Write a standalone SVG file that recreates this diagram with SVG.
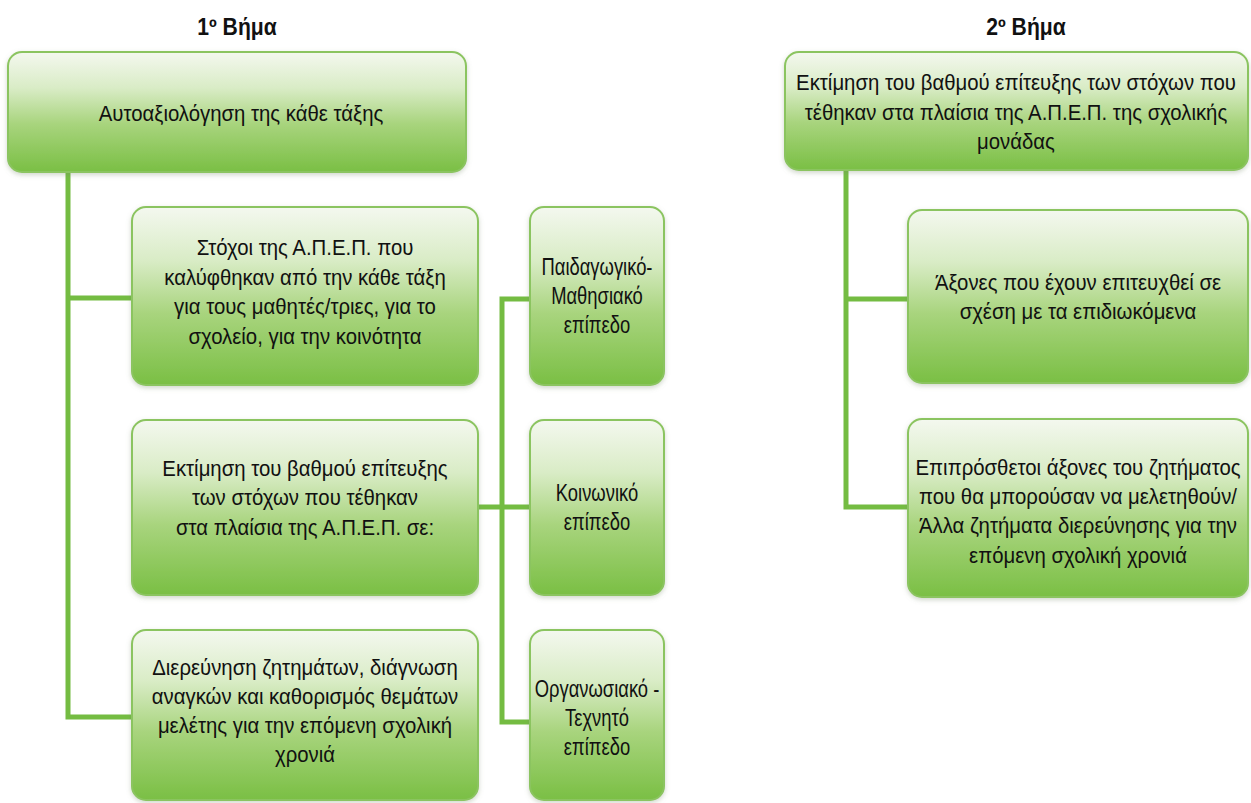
<svg xmlns="http://www.w3.org/2000/svg" width="1251" height="803" viewBox="0 0 1251 803">
<defs>
<linearGradient id="g" x1="0" y1="0" x2="0" y2="1">
<stop offset="0" stop-color="#f4f8ef"/>
<stop offset="0.3" stop-color="#d9ecc6"/>
<stop offset="0.6" stop-color="#a8d47d"/>
<stop offset="1" stop-color="#7abf44"/>
</linearGradient>
<filter id="sh" x="-5%" y="-5%" width="110%" height="115%">
<feDropShadow dx="0" dy="2" stdDeviation="2.5" flood-color="#7a8a6a" flood-opacity="0.35"/>
</filter>
<style>
.box{fill:url(#g);stroke:#8bc460;stroke-width:2;filter:url(#sh)}
.t{font-family:"Liberation Sans",Arial,sans-serif;font-size:23px;fill:#111;text-anchor:middle}
.h{font-family:"Liberation Sans",Arial,sans-serif;font-size:23px;font-weight:bold;fill:#111;text-anchor:middle}
.c{fill:none;stroke:#74bc42;stroke-width:5}
</style>
</defs>
<rect width="1251" height="803" fill="#fff"/>
<g transform="translate(237 0) scale(0.92 1)"><text class="h" x="0" y="35">1º Βήμα</text></g>
<g transform="translate(1026 0) scale(0.92 1)"><text class="h" x="0" y="35">2º Βήμα</text></g>
<g id="connectors">
<polyline class="c" points="68,172 68,717 132,717"/>
<line class="c" x1="68" y1="298" x2="132" y2="298"/>
<polyline class="c" points="530,299 502,299 502,722 530,722"/>
<line class="c" x1="478" y1="507" x2="530" y2="507"/>
<polyline class="c" points="846,170 846,507 908,507"/>
<line class="c" x1="846" y1="299" x2="908" y2="299"/>
</g>
<g id="nodeA">
<rect class="box" x="8" y="52" width="458" height="120" rx="14"/>
<g transform="translate(241 0) scale(0.885 1)">
<text class="t" x="0" y="121">Αυτοαξιολόγηση της κάθε τάξης</text>
</g>
</g>
<g id="nodeB1">
<rect class="box" x="132" y="207" width="346" height="178" rx="14"/>
<g transform="translate(305 0) scale(0.885 1)">
<text class="t" x="0" y="255">Στόχοι της Α.Π.Ε.Π. που</text>
<text class="t" x="0" y="285">καλύφθηκαν από την κάθε τάξη</text>
<text class="t" x="0" y="314">για τους μαθητές/τριες, για το</text>
<text class="t" x="0" y="344">σχολείο, για την κοινότητα</text>
</g>
</g>
<g id="nodeB2">
<rect class="box" x="132" y="420" width="346" height="175" rx="14"/>
<g transform="translate(305 0) scale(0.885 1)">
<text class="t" x="0" y="476">Εκτίμηση του βαθμού επίτευξης</text>
<text class="t" x="0" y="505">των στόχων που τέθηκαν</text>
<text class="t" x="0" y="535">στα πλαίσια της Α.Π.Ε.Π. σε:</text>
</g>
</g>
<g id="nodeB3">
<rect class="box" x="132" y="630" width="346" height="170" rx="14"/>
<g transform="translate(305 0) scale(0.885 1)">
<text class="t" x="0" y="675">Διερεύνηση ζητημάτων, διάγνωση</text>
<text class="t" x="0" y="704">αναγκών και καθορισμός θεμάτων</text>
<text class="t" x="0" y="733">μελέτης για την επόμενη σχολική</text>
<text class="t" x="0" y="762">χρονιά</text>
</g>
</g>
<g id="nodeC1">
<rect class="box" x="530" y="207" width="134" height="178" rx="14"/>
<g transform="translate(597 0) scale(0.8 1)">
<text class="t" x="0" y="275">Παιδαγωγικό-</text>
<text class="t" x="0" y="304">Μαθησιακό</text>
<text class="t" x="0" y="333">επίπεδο</text>
</g>
</g>
<g id="nodeC2">
<rect class="box" x="530" y="420" width="134" height="175" rx="14"/>
<g transform="translate(597 0) scale(0.8 1)">
<text class="t" x="0" y="501">Κοινωνικό</text>
<text class="t" x="0" y="530">επίπεδο</text>
</g>
</g>
<g id="nodeC3">
<rect class="box" x="530" y="630" width="134" height="170" rx="14"/>
<g transform="translate(597 0) scale(0.8 1)">
<text class="t" x="0" y="697">Οργανωσιακό -</text>
<text class="t" x="0" y="726">Τεχνητό</text>
<text class="t" x="0" y="755">επίπεδο</text>
</g>
</g>
<g id="nodeD">
<rect class="box" x="785" y="52" width="463" height="118" rx="14"/>
<g transform="translate(1016 0) scale(0.885 1)">
<text class="t" x="0" y="90">Εκτίμηση του βαθμού επίτευξης των στόχων που</text>
<text class="t" x="0" y="120">τέθηκαν στα πλαίσια της Α.Π.Ε.Π. της σχολικής</text>
<text class="t" x="0" y="149">μονάδας</text>
</g>
</g>
<g id="nodeE1">
<rect class="box" x="908" y="210" width="340" height="173" rx="14"/>
<g transform="translate(1078 0) scale(0.885 1)">
<text class="t" x="0" y="290">Άξονες που έχουν επιτευχθεί σε</text>
<text class="t" x="0" y="319">σχέση με τα επιδιωκόμενα</text>
</g>
</g>
<g id="nodeE2">
<rect class="box" x="908" y="419" width="340" height="178" rx="14"/>
<g transform="translate(1078 0) scale(0.885 1)">
<text class="t" x="0" y="475">Επιπρόσθετοι άξονες του ζητήματος</text>
<text class="t" x="0" y="504">που θα μπορούσαν να μελετηθούν/</text>
<text class="t" x="0" y="533">Άλλα ζητήματα διερεύνησης για την</text>
<text class="t" x="0" y="563">επόμενη σχολική χρονιά</text>
</g>
</g>
</svg>
